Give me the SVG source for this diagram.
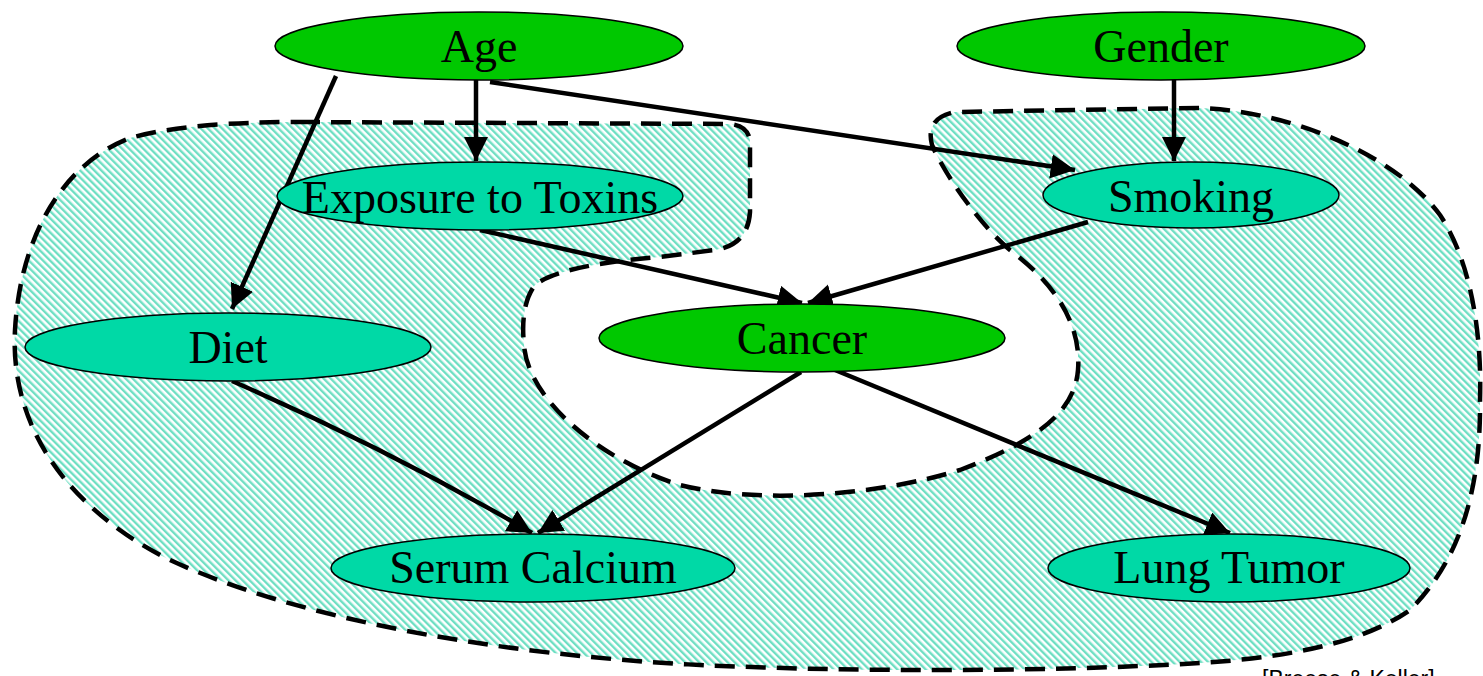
<svg xmlns="http://www.w3.org/2000/svg" width="1483" height="676" viewBox="0 0 1483 676">
<style>
.root{fill:#00c800;stroke:#000;stroke-width:1.5}
.child{fill:#00d9a6;stroke:#000;stroke-width:1.5}
.lbl{font-family:"Liberation Serif","Times New Roman",serif;font-size:46px;fill:#000;text-anchor:middle}
.edge{stroke:#000;stroke-width:4.5;fill:none;marker-end:url(#arr)}
.region{fill:url(#hatch);stroke:#000;stroke-width:4.5;stroke-dasharray:20 11}
.cite{font-family:"Liberation Sans",Arial,sans-serif;font-size:23px;fill:#000}
</style>
<defs>
<pattern id="hatch" patternUnits="userSpaceOnUse" width="5" height="5" patternTransform="rotate(-45)">
<rect width="5" height="5" fill="#ffffff"/>
<rect width="2.4" height="5" fill="#6edfc3"/>
</pattern>
<marker id="arr" markerWidth="7" markerHeight="7" refX="5.4" refY="2.7" orient="auto" markerUnits="strokeWidth">
<path d="M0,0 L5.4,2.7 L0,5.4 Z" fill="#000"/>
</marker>
</defs>
<rect width="1483" height="676" fill="#ffffff"/>
<g id="region">
<path class="region" d="M300,122 L730,124 Q752,126 750,148 L750,212 Q748,245 715,250 L660,257 Q560,265 535,285 Q520,305 524,345 C528,400 600,460 680,485 C760,505 880,495 960,470 C1040,440 1075,410 1078,370 C1082,320 1050,280 1010,250 C980,225 945,175 932,145 Q925,118 955,112 L1200,108 C1300,112 1400,160 1440,215 C1470,260 1482,330 1480,400 C1481,490 1460,560 1410,610 C1360,645 1280,658 1200,663 C1050,672 850,672 700,665 C500,655 300,620 170,560 C60,505 10,420 15,330 C20,240 60,165 130,138 C180,124 250,122 300,122 Z"/>
</g>
<g id="connectors">
<line class="edge" x1="336" y1="76" x2="232" y2="309"/>
<line class="edge" x1="476" y1="80" x2="476" y2="161"/>
<line class="edge" x1="490" y1="82" x2="1075" y2="170"/>
<line class="edge" x1="1174" y1="79" x2="1174" y2="161"/>
<line class="edge" x1="480" y1="230" x2="802" y2="303"/>
<line class="edge" x1="1088" y1="222" x2="808" y2="303"/>
<path class="edge" d="M232,381 Q390,450 532,533"/>
<line class="edge" x1="801" y1="372" x2="538" y2="533"/>
<line class="edge" x1="835" y1="370" x2="1230" y2="533"/>
</g>
<g id="age"><ellipse class="root" cx="479" cy="46" rx="204" ry="34"/><text class="lbl" x="479" y="62">Age</text></g>
<g id="gender"><ellipse class="root" cx="1161" cy="46" rx="204" ry="34"/><text class="lbl" x="1161" y="62">Gender</text></g>
<g id="exposure"><ellipse class="child" cx="480" cy="196" rx="203" ry="34"/><text class="lbl" x="480" y="213">Exposure to Toxins</text></g>
<g id="smoking"><ellipse class="child" cx="1191" cy="195" rx="148" ry="33"/><text class="lbl" x="1191" y="212">Smoking</text></g>
<g id="diet"><ellipse class="child" cx="228" cy="347" rx="203" ry="34"/><text class="lbl" x="228" y="363">Diet</text></g>
<g id="cancer"><ellipse class="root" cx="802" cy="338" rx="203" ry="34"/><text class="lbl" x="802" y="354">Cancer</text></g>
<g id="serum"><ellipse class="child" cx="533" cy="568" rx="202" ry="34"/><text class="lbl" x="533" y="583">Serum Calcium</text></g>
<g id="lung"><ellipse class="child" cx="1229" cy="568" rx="181" ry="34"/><text class="lbl" x="1229" y="583">Lung Tumor</text></g>
<text class="cite" x="1262" y="687">[Breese &amp; Koller]</text>
</svg>
